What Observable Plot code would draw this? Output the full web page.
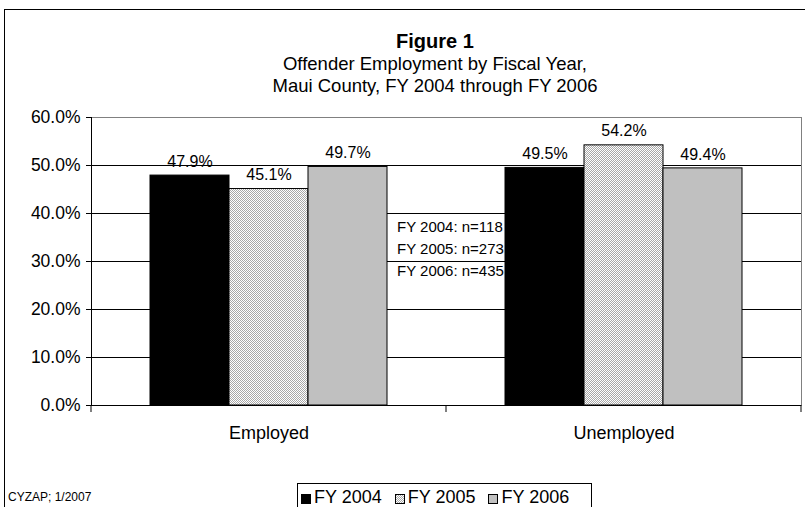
<!DOCTYPE html>
<html>
<head>
<meta charset="utf-8">
<script src="https://cdn.jsdelivr.net/npm/d3@7"></script>
<script src="https://cdn.jsdelivr.net/npm/@observablehq/plot@0.6"></script>
<style>
  html, body { margin: 0; padding: 0; background: #fff; }
  body { font-family: "Liberation Sans", Arial, sans-serif; color: #000; }
  #wrap { position: relative; width: 805px; height: 507px; overflow: hidden; }
  #wrap svg.chart { position: absolute; left: 0; top: 0; }
  .border { position: absolute; left: 4px; top: 9px; width: 820px; height: 520px;
            border-left: 1px solid #000; border-top: 1px solid #000; }
  .title { position: absolute; left: 0; width: 870px; text-align: center; }
  #t1 { top: 30px; font-size: 20px; font-weight: bold; }
  #t2 { top: 53px; font-size: 18.5px; }
  #t3 { top: 75px; font-size: 18.5px; }
  #note { position: absolute; left: 397px; top: 216px; font-size: 15px; line-height: 22px; }
  #caption { position: absolute; left: 8px; top: 490px; font-size: 12px; }
  #legend { position: absolute; left: 297px; top: 483px; width: 295px; height: 40px;
            border: 1px solid #000; box-sizing: border-box; font-size: 18px;
            padding: 3px 0 0 3px; white-space: nowrap; }
  #legend span.item { margin-right: 13px; }
  #legend svg { vertical-align: -1px; margin-right: 3px; }
</style>
</head>
<body>
<div id="wrap">
  <div class="border"></div>
  <div class="title" id="t1"></div>
  <div class="title" id="t2"></div>
  <div class="title" id="t3"></div>
  <div id="note"></div>
  <div id="caption"></div>
  <div id="legend"></div>
</div>
<script>
// ---- data ----
const titleText = "Figure 1";
const subtitleLines = ["Offender Employment by Fiscal Year,", "Maui County, FY 2004 through FY 2006"];
const captionText = "CYZAP; 1/2007";
const categories = ["Employed", "Unemployed"];
const years = ["FY 2004", "FY 2005", "FY 2006"];
const employedValues = [47.9, 45.1, 49.7];
const unemployedValues = [49.5, 54.2, 49.4];
const sampleSizes = [118, 273, 435];
const yTicks = [0, 10, 20, 30, 40, 50, 60];
const yearFills = ["#000000", "url(#dots)", "#c0c0c0"];

const seriesByCategory = [employedValues, unemployedValues];
const table = categories.flatMap((c, i) =>
  years.map((y, j) => ({category: c, year: y, value: seriesByCategory[i][j]}))
);

// ---- text ----
document.getElementById("t1").textContent = titleText;
document.getElementById("t2").textContent = subtitleLines[0];
document.getElementById("t3").textContent = subtitleLines[1];
document.getElementById("caption").textContent = captionText;
document.getElementById("note").innerHTML =
  years.map((y, j) => `${y}: n=${sampleSizes[j]}`).join("<br>");

// ---- chart ----
const fmt = d => d.toFixed(1) + "%";
const plot = Plot.plot({
  width: 805,
  height: 507,
  marginLeft: 91,
  marginRight: 4,
  marginTop: 117,
  marginBottom: 102,
  style: {fontFamily: "'Liberation Sans', Arial, sans-serif", background: "transparent", color: "#000"},
  fx: {domain: categories, padding: 0, label: null, axis: null},
  x: {domain: years, paddingInner: 0, paddingOuter: 0.72, axis: null},
  y: {domain: [0, 60], axis: null},
  color: {type: "ordinal", domain: years, range: yearFills},
  marks: [
    Plot.ruleY(yTicks.filter(d => d > 0 && d < 60), {stroke: "#000", strokeWidth: 1}),
    Plot.ruleY([60], {stroke: "#808080", strokeWidth: 1}),
    Plot.frame({anchor: "right", stroke: "#808080", facetAnchor: "right"}),
    Plot.barY(table, {fx: "category", x: "year", y: "value", fill: "year", stroke: "#000", strokeWidth: 1}),
    Plot.text(table, {fx: "category", x: "year", y: "value", text: d => fmt(d.value), dy: -14, fontSize: 16}),
    Plot.ruleY([0], {stroke: "#000", strokeWidth: 1}),
    Plot.frame({anchor: "left", stroke: "#000", facetAnchor: "left"}),
    Plot.axisY({ticks: yTicks, tickFormat: fmt, tickSize: 5, tickPadding: 6, fontSize: 17.5, label: null, facetAnchor: "left"}),
    Plot.axisFx({anchor: "bottom", tickSize: 0, tickPadding: 21, fontSize: 18, label: null})
  ]
});
plot.classList.add("chart");

// pattern for FY 2005
const svg = d3.select(plot);
const defs = svg.insert("defs", ":first-child");
const pat = defs.append("pattern").attr("id", "dots").attr("patternUnits", "userSpaceOnUse")
  .attr("width", 2).attr("height", 2);
pat.append("rect").attr("width", 2).attr("height", 2).attr("fill", "#ffffff");
pat.append("rect").attr("x", 0).attr("y", 0).attr("width", 1).attr("height", 1).attr("fill", "#a8a8a8");
pat.append("rect").attr("x", 1).attr("y", 1).attr("width", 1).attr("height", 1).attr("fill", "#a8a8a8");

// category boundary ticks below the axis
const fx = plot.scale("fx");
const yS = plot.scale("y");
const y0 = yS.apply(0);
const edges = categories.map(c => fx.apply(c)).concat([fx.apply(categories[categories.length - 1]) + fx.bandwidth]);
svg.append("g").selectAll("line").data(edges).join("line")
  .attr("x1", d => d).attr("x2", d => d)
  .attr("y1", y0).attr("y2", y0 + 7)
  .attr("stroke", "#000");

document.getElementById("wrap").appendChild(plot);

// legend
const legend = d3.select("#legend");
years.forEach((y, j) => {
  const item = legend.append("span").attr("class", "item");
  const s = item.append("svg").attr("width", 10).attr("height", 10);
  s.append("rect").attr("x", 0.5).attr("y", 0.5).attr("width", 9).attr("height", 9)
    .attr("fill", yearFills[j]).attr("stroke", "#000");
  item.append("span").text(y);
});
</script>
</body>
</html>
